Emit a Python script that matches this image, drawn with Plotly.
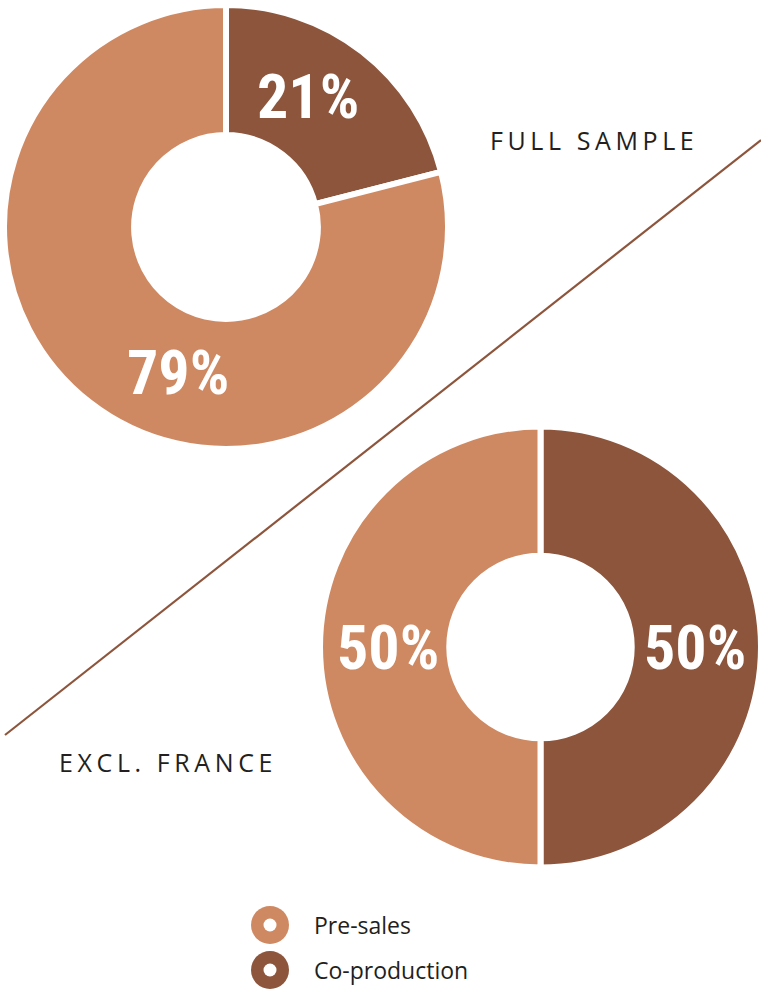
import plotly.graph_objects as go

# Funding source shares (percent)
categories = ["Co-production", "Pre-sales"]
full_sample = [21, 79]
excl_france = [50, 50]
panel_titles = ["FULL SAMPLE", "EXCL. FRANCE"]
colors = ["#8C553C", "#CF8962"]

W, H = 761, 989


def px(x):
    return x / W


def py(y):
    return 1 - y / H


fig = go.Figure()

# Donut for the full sample (upper left)
fig.add_trace(go.Pie(
    labels=categories, values=full_sample, sort=False, direction="clockwise",
    rotation=0, hole=0.414, textinfo="none", hoverinfo="label+percent",
    marker=dict(colors=colors, line=dict(color="white", width=6)),
    domain=dict(x=[px(4), px(448)], y=[py(449), py(5)]),
    showlegend=False,
))

# Donut excluding France (lower right)
fig.add_trace(go.Pie(
    labels=categories, values=excl_france, sort=False, direction="clockwise",
    rotation=0, hole=0.414, textinfo="none", hoverinfo="label+percent",
    marker=dict(colors=colors, line=dict(color="white", width=6)),
    domain=dict(x=[px(320), 1.0], y=[py(647 + 220.5), py(647 - 220.5)]),
    showlegend=False,
))

pct_font = dict(family="'Roboto Condensed', 'Open Sans Condensed', sans-serif",
                size=62, color="white", weight="bold")

# Percentage labels: (series, index, x, y)
label_spots = [
    (full_sample, 0, 308, 97),
    (full_sample, 1, 178, 372),
    (excl_france, 1, 388, 647),
    (excl_france, 0, 695, 647),
]
annotations = []
for series, i, x, y in label_spots:
    annotations.append(dict(
        text=f"{series[i]}%", x=px(x), y=py(y), xref="paper", yref="paper",
        xanchor="center", yanchor="middle", showarrow=False, font=pct_font,
    ))

# Panel titles with tracked caps
title_font = dict(family="Open Sans", size=25, color="#231F20")
for title, x, y in zip(panel_titles, [488, 57], [140, 762]):
    annotations.append(dict(
        text=f'<span style="letter-spacing:4.6px">{title}</span>',
        x=px(x), y=py(y), xref="paper", yref="paper",
        xanchor="left", yanchor="middle", showarrow=False, font=title_font,
    ))

# Legend entries (ring swatch + label)
shapes = []
legend_x, legend_y0, legend_step = 270, 925, 45
for k, (name, col) in enumerate(zip(reversed(categories), reversed(colors))):
    cy = legend_y0 + k * legend_step
    shapes.append(dict(type="circle", xref="paper", yref="paper",
                       x0=px(legend_x - 19), x1=px(legend_x + 19),
                       y0=py(cy + 19), y1=py(cy - 19),
                       fillcolor=col, line=dict(width=0)))
    shapes.append(dict(type="circle", xref="paper", yref="paper",
                       x0=px(legend_x - 6.5), x1=px(legend_x + 6.5),
                       y0=py(cy + 6.5), y1=py(cy - 6.5),
                       fillcolor="white", line=dict(width=0)))
    annotations.append(dict(
        text=name, x=px(312), y=py(cy), xref="paper", yref="paper",
        xanchor="left", yanchor="middle", showarrow=False,
        font=dict(family="Open Sans", size=23, color="#231F20"),
    ))

# Diagonal divider
shapes.append(dict(type="line", xref="paper", yref="paper",
                   x0=px(5), y0=py(735), x1=1.0, y1=py(140),
                   line=dict(color="#8C553C", width=2.2), layer="below"))

fig.update_layout(
    width=W, height=H, margin=dict(l=0, r=0, t=0, b=0),
    paper_bgcolor="white", plot_bgcolor="white",
    annotations=annotations, shapes=shapes,
)

fig.write_html("out.html")
